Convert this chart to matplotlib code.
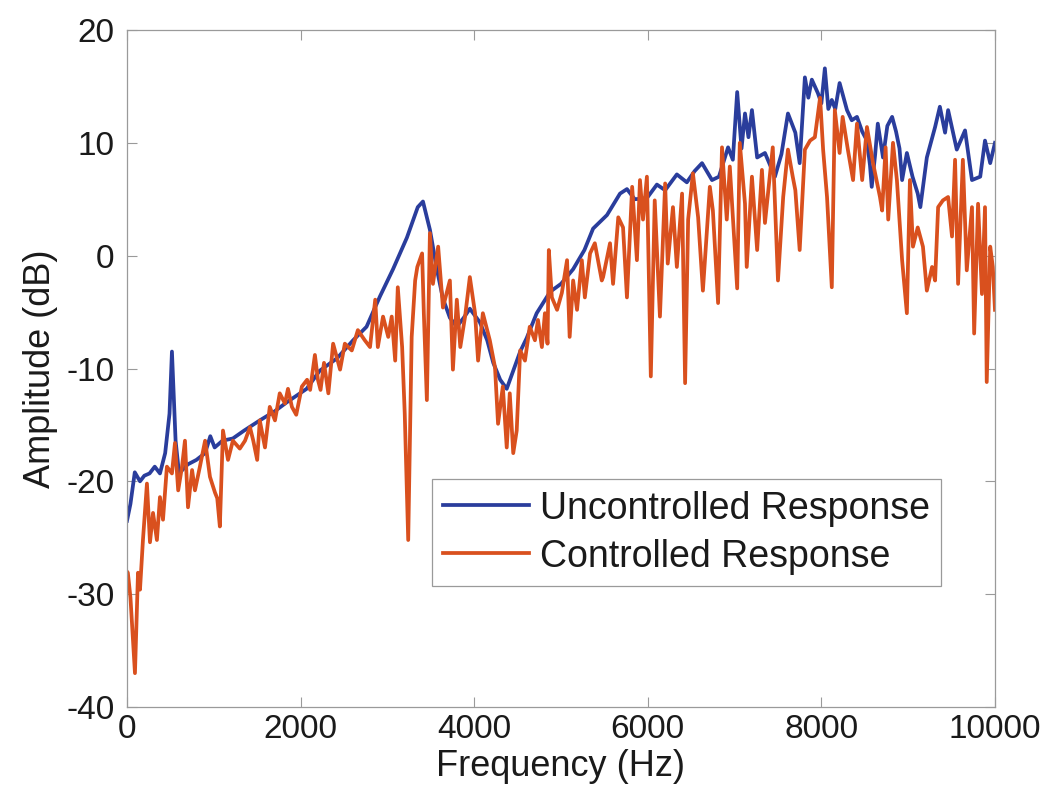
import matplotlib
matplotlib.use("Agg")
import matplotlib.pyplot as plt

# ============================================================
# Data (frequency in Hz, amplitude in dB)
# ============================================================
freq_unc = [0, 40, 90, 150, 200, 260, 320, 380, 440, 490, 518, 560, 600, 700,
            800, 900, 960, 1010, 1100, 1220, 1350, 1530, 1700, 1840, 2070, 2220,
            2420, 2605, 2760, 2915, 3065, 3225, 3350, 3410, 3490, 3570, 3640,
            3720, 3800, 3880, 3950, 4065, 4150, 4220, 4300, 4375, 4450, 4530,
            4605, 4720, 4875, 5000, 5140, 5270, 5370, 5530, 5680, 5760, 5850,
            5990, 6105, 6200, 6335, 6450, 6540, 6625, 6740, 6820, 6925, 6980,
            7030, 7080, 7120, 7160, 7200, 7260, 7350, 7465, 7540, 7615, 7700,
            7750, 7810, 7850, 7890, 7960, 8000, 8040, 8080, 8120, 8160, 8210,
            8295, 8350, 8410, 8470, 8525, 8560, 8580, 8620, 8650, 8710, 8760,
            8815, 8860, 8900, 8930, 8985, 9050, 9110, 9140, 9215, 9310, 9365,
            9425, 9460, 9560, 9655, 9735, 9830, 9885, 9945, 10000]
amp_unc = [-23.5, -22, -19.2, -20, -19.5, -19.3, -18.7, -19.3, -17.5, -14, -8.5,
           -16.4, -19.3, -18.5, -18.1, -17.5, -16, -17, -16.4, -16.2, -15.5,
           -14.6, -13.8, -13, -11.8, -10.2, -9.1, -7.5, -6.3, -3.6, -1.2, 1.6,
           4.3, 4.8, 2.3, -1.2, -3.8, -5.5, -6.3, -5.5, -4.7, -5.9, -7.5, -9.5,
           -11, -11.8, -10.2, -8.5, -7.3, -5.1, -3.2, -2.5, -1.2, 0.5, 2.4, 3.6,
           5.5, 5.9, 5.0, 5.1, 6.3, 5.8, 7.2, 6.5, 7.5, 8.2, 6.7, 7.0, 9.6, 8.5,
           14.5, 9.5, 12.6, 10.5, 12.9, 8.7, 9.1, 7.0, 9.0, 12.6, 10.9, 8.2,
           15.8, 14.0, 15.6, 14.4, 13.5, 16.6, 13.0, 13.8, 13.0, 15.3, 12.9,
           12.0, 12.3, 11.0, 10.2, 8.0, 6.1, 9.0, 11.7, 8.7, 11.5, 12.3, 11.0,
           9.5, 6.7, 9.1, 7.0, 5.5, 4.3, 8.7, 11.4, 13.2, 10.9, 12.9, 9.4, 11.1,
           6.7, 7.0, 10.2, 8.2, 10.0]

freq_ctl = [0, 10, 40, 92, 127, 150, 184, 230, 265, 300, 345, 380, 415, 460, 518,
            553, 590, 634, 668, 703, 750, 783, 840, 900, 956, 1014, 1040, 1070,
            1106, 1164, 1220, 1300, 1360, 1417, 1455, 1500, 1530, 1590, 1645,
            1705, 1760, 1820, 1855, 1900, 1950, 2015, 2075, 2110, 2165, 2200,
            2230, 2270, 2320, 2375, 2455, 2510, 2590, 2660, 2740, 2800, 2860,
            2890, 2950, 3010, 3050, 3090, 3120, 3170, 3200, 3240, 3280, 3320,
            3345, 3400, 3420, 3455, 3490, 3525, 3585, 3640, 3720, 3755, 3800,
            3840, 3895, 3950, 4010, 4045, 4100, 4180, 4240, 4275, 4330, 4375,
            4410, 4450, 4490, 4530, 4585, 4640, 4700, 4735, 4780, 4815, 4845,
            4860, 4895, 4955, 5010, 5070, 5100, 5140, 5185, 5240, 5275, 5335,
            5390, 5470, 5485, 5565, 5600, 5660, 5715, 5760, 5820, 5875, 5910,
            5945, 5990, 6035, 6080, 6140, 6200, 6230, 6290, 6335, 6395, 6430,
            6465, 6520, 6580, 6635, 6715, 6750, 6810, 6855, 6910, 6945, 7030,
            7060, 7120, 7140, 7200, 7260, 7315, 7350, 7440, 7500, 7560, 7615,
            7670, 7700, 7750, 7810, 7870, 7925, 7985, 8020, 8065, 8120, 8155,
            8210, 8245, 8305, 8365, 8410, 8470, 8525, 8595, 8675, 8700, 8740,
            8770, 8825, 8870, 8930, 8985, 9020, 9055, 9110, 9170, 9215, 9275,
            9310, 9345, 9400, 9460, 9505, 9540, 9575, 9630, 9675, 9735, 9760,
            9805, 9850, 9885, 9905, 9945, 9975, 10000]
amp_ctl = [-28, -28.1, -30.3, -37, -28.1, -29.6, -25.2, -20.2, -25.4, -22.8,
           -25.2, -21.4, -23.4, -18.7, -19.3, -16.6, -20.8, -18.7, -16.4, -22.3,
           -19, -20.8, -18.7, -16.4, -19.6, -21, -21.5, -24, -15.5, -18.1, -16.4,
           -17.1, -16.4, -15.2, -16.4, -18.1, -14.6, -17, -13.4, -14.6, -12.2,
           -13.1, -11.8, -13.4, -14.1, -11.6, -11, -11.9, -8.8, -11, -11.9,
           -9.5, -12.2, -7.8, -10.1, -7.8, -8.4, -6.6, -7.5, -8.1, -3.9, -8.1,
           -5.4, -7.2, -5.4, -9.3, -2.8, -8.1, -14, -25.2, -7.2, -2.2, -1.0, 0.2,
           -5.1, -12.8, 2.0, -2.5, 0.8, -4.6, -2.2, -10.1, -3.9, -8.1, -5.4,
           -1.9, -5.1, -9.3, -5.1, -7.5, -9.9, -14.9, -11.6, -17, -12.2, -17.5,
           -15.5, -8.4, -9.3, -6.3, -7.5, -5.7, -8.1, -5.1, -7.8, 0.5, -3.7,
           -4.8, -3.3, -0.4, -7.2, -2.2, -4.8, -0.4, -3.7, 0.2, 1.1, -2.2, -1.9,
           1.1, -2.5, 3.4, 2.5, -3.7, 6.1, -0.4, 6.7, 3.2, 7.0, -10.7, 4.9,
           -5.4, 6.4, -0.7, 4.3, -1.0, 5.5, -11.3, 3.2, 7.3, 3.4, -3.1, 6.1,
           4.0, -4.2, 9.6, 3.2, 7.9, -2.9, 10.0, 4.6, -1.0, 7.0, 0.5, 7.6, 2.9,
           9.6, -2.2, 5.2, 9.4, 7.0, 5.8, 0.5, 9.4, 10.2, 10.5, 14.0, 9.4, 5.2,
           -2.8, 12.9, 9.1, 12.3, 9.4, 6.7, 11.7, 6.7, 11.4, 8.2, 5.2, 4.0, 9.6,
           3.2, 10.0, 6.7, -0.4, -5.1, 6.7, 0.8, 2.5, 0.8, -3.1, -1.0, -2.2,
           4.3, 4.9, 5.2, 1.7, 8.5, -2.5, 8.5, -1.3, 4.3, -6.9, 4.6, -3.4, 4.3,
           -11.2, 0.8, -1.0, -4.8]

series_labels = ["Uncontrolled Response", "Controlled Response"]
xticks = [0, 2000, 4000, 6000, 8000, 10000]
yticks = [-40, -30, -20, -10, 0, 10, 20]

# ============================================================
# Figure
# ============================================================
plt.rcParams['font.family'] = ['Liberation Sans', 'DejaVu Sans']
plt.rcParams['axes.unicode_minus'] = False

fig = plt.figure(figsize=(10.52, 8.0), dpi=100)
ax = fig.add_axes([0.1207, 0.11625, 0.8251, 0.84625])

ax.plot(freq_unc, amp_unc, color='#2a3d9c', lw=2.7, label=series_labels[0])
ax.plot(freq_ctl, amp_ctl, color='#d9501e', lw=2.7, label=series_labels[1])

ax.set_xlim(0, 10000)
ax.set_ylim(-40, 20)
ax.set_xticks(xticks)
ax.set_yticks(yticks)
ax.tick_params(direction='in', top=True, right=True, length=7, width=0.8,
               labelsize=24, colors='#9a9a9a', labelcolor='#1a1a1a')
ax.tick_params(axis='x', pad=5)
ax.tick_params(axis='y', pad=9)
for s in ax.spines.values():
    s.set_color('#9a9a9a')
    s.set_linewidth(0.9)

ax.set_xlabel('Frequency (Hz)', fontsize=26, color='#1a1a1a', labelpad=3)
ax.set_ylabel('Amplitude (dB)', fontsize=26, color='#1a1a1a', labelpad=6)

leg = ax.legend(loc='lower left', bbox_to_anchor=(0.351, 0.179), fontsize=27,
                fancybox=False, framealpha=1, edgecolor='#9a9a9a',
                handlelength=2.3, handletextpad=0.28, borderpad=0.3,
                labelspacing=0.32, borderaxespad=0)
leg.get_frame().set_linewidth(0.9)
for t in leg.get_texts():
    t.set_color('#1a1a1a')

fig.savefig('out.png', dpi=100)
